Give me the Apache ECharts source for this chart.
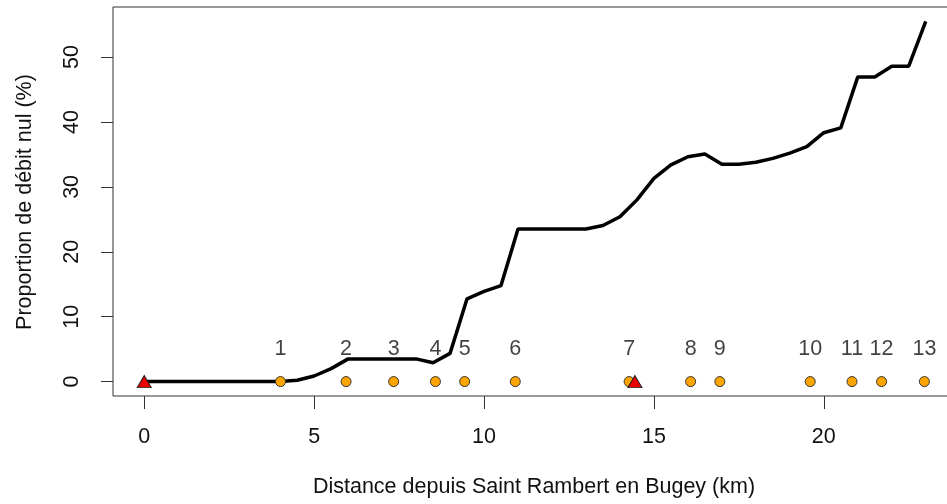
<!DOCTYPE html>
<html>
<head>
<meta charset="utf-8">
<script src="https://cdn.jsdelivr.net/npm/echarts@6/dist/echarts.min.js"></script>
<style>html,body{margin:0;background:#fff}</style>
</head>
<body>
<div id="main" style="width:947px;height:504px"></div>
<script>
// distance le long du cours d'eau (km) et proportion de débit nul (%)
const distKm = [0, 0.5, 1, 1.5, 2, 2.5, 3, 3.5, 4, 4.5, 5, 5.5, 6, 6.5, 7, 7.5, 8, 8.5, 9, 9.5,
  10, 10.5, 11, 11.5, 12, 12.5, 13, 13.5, 14, 14.5, 15, 15.5, 16, 16.5, 17, 17.5, 18, 18.5,
  19, 19.5, 20, 20.5, 21, 21.5, 22, 22.5, 23]
const propNul = [0, 0, 0, 0, 0, 0, 0, 0, 0, 0.2, 0.86, 2.0, 3.5, 3.5, 3.5, 3.5, 3.5, 2.9, 4.35, 12.75,
  13.9, 14.8, 23.5, 23.5, 23.5, 23.5, 23.5, 24.05, 25.4, 28.0, 31.3, 33.4, 34.65, 35.07, 33.5, 33.5, 33.8, 34.4,
  35.2, 36.2, 38.35, 39.1, 46.95, 46.95, 48.6, 48.6, 55.5]

// stations (points orange) et leurs numéros
const stationKm = [4.01, 5.94, 7.34, 8.57, 9.43, 10.92, 14.27, 16.08, 16.94, 19.6, 20.83, 21.7, 22.96]
const stationNames = ['1', '2', '3', '4', '5', '6', '7', '8', '9', '10', '11', '12', '13']

// triangles rouges
const triangleKm = [0, 14.44]

const xTicks = [0, 5, 10, 15, 20]
const yTicks = [0, 10, 20, 30, 40, 50]

const font = 'Liberation Sans, Arial, sans-serif'
const fs = 21.5

const chart = echarts.init(document.getElementById('main'))
const option = {
  animation: false,
  grid: {
    left: 113,
    top: 7,
    width: 844,
    height: 389,
    outerBoundsMode: 'none',
    containLabel: false,
    show: true,
    borderColor: '#333',
    borderWidth: 1
  },
  xAxis: {
    type: 'value',
    min: -0.92,
    max: 23.92,
    axisLine: { show: false, onZero: false },
    splitLine: { show: false },
    axisTick: {
      show: true,
      inside: false,
      length: 13,
      customValues: xTicks,
      lineStyle: { color: '#333', width: 1 }
    },
    axisLabel: {
      customValues: xTicks,
      margin: 30,
      fontSize: fs,
      fontFamily: font,
      color: '#111'
    }
  },
  yAxis: {
    type: 'value',
    min: -2.22,
    max: 57.72,
    axisLine: { show: false, onZero: false },
    splitLine: { show: false },
    axisTick: {
      show: true,
      length: 12,
      customValues: yTicks,
      lineStyle: { color: '#333', width: 1 }
    },
    axisLabel: {
      customValues: yTicks,
      rotate: 90,
      margin: 30,
      fontSize: fs,
      fontFamily: font,
      color: '#111'
    }
  },
  graphic: [
    {
      type: 'text',
      x: 534,
      y: 487,
      style: {
        text: 'Distance depuis Saint Rambert en Bugey (km)',
        font: fs + 'px ' + font,
        fill: '#111',
        textAlign: 'center',
        textVerticalAlign: 'middle'
      }
    },
    {
      type: 'text',
      x: 25,
      y: 202,
      rotation: Math.PI / 2,
      style: {
        text: 'Proportion de débit nul (%)',
        font: fs + 'px ' + font,
        fill: '#111',
        textAlign: 'center',
        textVerticalAlign: 'middle'
      }
    }
  ],
  series: [
    {
      type: 'line',
      data: distKm.map((x, i) => [x, propNul[i]]),
      showSymbol: false,
      lineStyle: { color: '#000', width: 3.5 },
      z: 2
    },
    {
      type: 'scatter',
      data: stationKm.map(x => [x, 0]),
      symbol: 'circle',
      symbolSize: 10,
      itemStyle: { color: '#FFA500', borderColor: '#333', borderWidth: 1, opacity: 1 },
      z: 3
    },
    {
      type: 'scatter',
      data: triangleKm.map(x => [x, 0]),
      symbol: 'triangle',
      symbolSize: [14, 12],
      itemStyle: { color: '#EE0000', borderColor: '#222', borderWidth: 1, opacity: 1 },
      z: 4
    },
    {
      // numéros des stations
      type: 'scatter',
      data: stationKm.map((x, i) => ({ value: [x, 5], name: stationNames[i] })),
      symbolSize: 1,
      itemStyle: { color: 'transparent' },
      label: {
        show: true,
        position: 'inside',
        formatter: '{b}',
        fontSize: fs,
        fontFamily: font,
        color: '#111'
      },
      z: 5
    }
  ]
}

option && chart.setOption(option)
</script>
</body>
</html>
